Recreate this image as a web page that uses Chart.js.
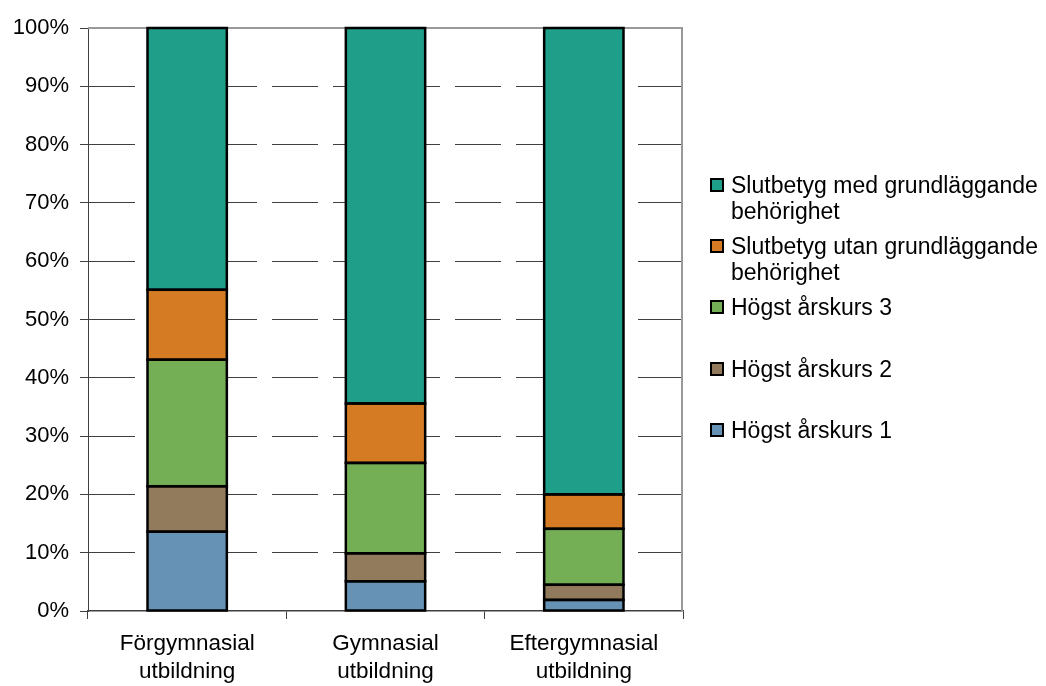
<!DOCTYPE html>
<html>
<head>
<meta charset="utf-8">
<script src="https://cdn.jsdelivr.net/npm/chart.js@4"></script>
<style>
  html, body { margin: 0; padding: 0; background: #fff; }
  #wrap { position: relative; width: 1046px; height: 686px; }
  #legend { position: absolute; left: 0; top: 0; font-family: "Liberation Sans", Arial, sans-serif; font-size: 23px; line-height: 26px; color: #000; }
  .item { position: absolute; left: 710px; width: 336px; }
  .box { position: absolute; left: 0; top: 6px; width: 10px; height: 10px; border: 2px solid #000; }
  .txt { position: absolute; left: 21px; white-space: nowrap; }
</style>
</head>
<body>
<div id="wrap">
  <canvas id="chart" width="1046" height="686"></canvas>
  <div id="legend"></div>
</div>
<script>
// categories on the x axis (two-line labels)
const categories = [
  ['Förgymnasial', 'utbildning'],
  ['Gymnasial', 'utbildning'],
  ['Eftergymnasial', 'utbildning']
];

// shares in percent (bottom segment first)
const hogst1 = [13.6, 5.1, 1.9];
const hogst2 = [7.8, 4.8, 2.6];
const hogst3 = [21.7, 15.5, 9.6];
const utanBehorighet = [12.0, 10.2, 5.9];
const medBehorighet = [44.9, 64.4, 80.0];

const seriesNames = [
  'Högst årskurs 1',
  'Högst årskurs 2',
  'Högst årskurs 3',
  'Slutbetyg utan grundläggande behörighet',
  'Slutbetyg med grundläggande behörighet'
];
const seriesColors = ['#6693B5', '#927A5C', '#74AF56', '#D57B24', '#1F9E89'];
const seriesData = [hogst1, hogst2, hogst3, utanBehorighet, medBehorighet];

// legend lines (top item first) and where each item sits
const legendLines = [
  ['Slutbetyg med grundläggande', 'behörighet'],
  ['Slutbetyg utan grundläggande', 'behörighet'],
  ['Högst årskurs 3'],
  ['Högst årskurs 2'],
  ['Högst årskurs 1']
];
const legendTops = [172, 233, 294, 356, 417];

const datasets = seriesData.map((values, i) => ({
  label: seriesNames[i],
  data: values,
  backgroundColor: seriesColors[i],
  borderColor: '#000',
  borderWidth: 0
}));

// black outline around each bar segment, like the original
const outlinePlugin = {
  id: 'outline',
  afterDatasetsDraw(chart) {
    const { ctx } = chart;
    ctx.save();
    ctx.strokeStyle = '#000';
    ctx.lineWidth = 2.5;
    chart.data.datasets.forEach((ds, i) => {
      chart.getDatasetMeta(i).data.forEach(bar => {
        const left = bar.x - bar.width / 2;
        const top = Math.min(bar.y, bar.base);
        const h = Math.abs(bar.base - bar.y);
        ctx.strokeRect(left, top, bar.width, h);
      });
    });
    ctx.restore();
  }
};

// gray frame on top and right of the plot area (under the bars)
const framePlugin = {
  id: 'frame',
  beforeDatasetsDraw(chart) {
    const { ctx, chartArea } = chart;
    ctx.save();
    ctx.strokeStyle = '#999';
    ctx.lineWidth = 2;
    ctx.beginPath();
    ctx.moveTo(chartArea.left, chartArea.top);
    ctx.lineTo(chartArea.right - 1, chartArea.top);
    ctx.lineTo(chartArea.right - 1, chartArea.bottom);
    ctx.stroke();
    ctx.restore();
  }
};

const fontFamily = '"Liberation Sans", Arial, sans-serif';

new Chart(document.getElementById('chart'), {
  type: 'bar',
  data: { labels: categories, datasets: datasets },
  options: {
    responsive: false,
    animation: false,
    layout: { padding: { left: 0, right: 363, top: 28, bottom: 0 } },
    plugins: {
      legend: { display: false },
      tooltip: { enabled: false }
    },
    datasets: {
      bar: { categoryPercentage: 1, barPercentage: 0.4 }
    },
    scales: {
      x: {
        stacked: true,
        afterFit(scale) { scale.height = 75; },
        grid: {
          drawOnChartArea: false,
          drawTicks: true,
          tickLength: 8,
          tickColor: '#404040',
          offset: true
        },
        border: { color: '#404040', width: 1.5 },
        ticks: {
          color: '#000',
          padding: 11,
          maxRotation: 0,
          font: { family: fontFamily, size: 22.5, lineHeight: '28px' }
        }
      },
      y: {
        stacked: true,
        min: 0,
        max: 100,
        afterFit(scale) { scale.width = 88; },
        grid: {
          color: ctx => (ctx.tick && (ctx.tick.value === 100 || ctx.tick.value === 0)) ? 'rgba(0,0,0,0)' : '#404040',
          lineWidth: 1,
          tickLength: 8,
          tickColor: '#404040'
        },
        border: { color: '#404040', width: 1, dash: [46, 15] },
        ticks: {
          stepSize: 10,
          color: '#000',
          padding: 11,
          font: { family: fontFamily, size: 22 },
          callback: v => v + '%'
        }
      }
    }
  },
  plugins: [framePlugin, outlinePlugin]
});

// html legend
const legend = document.getElementById('legend');
legendLines.forEach((lines, i) => {
  const item = document.createElement('div');
  item.className = 'item';
  item.style.top = legendTops[i] + 'px';
  const box = document.createElement('div');
  box.className = 'box';
  box.style.background = seriesColors[seriesColors.length - 1 - i];
  const txt = document.createElement('div');
  txt.className = 'txt';
  txt.innerHTML = lines.join('<br>');
  item.appendChild(box);
  item.appendChild(txt);
  legend.appendChild(item);
});
</script>
</body>
</html>
